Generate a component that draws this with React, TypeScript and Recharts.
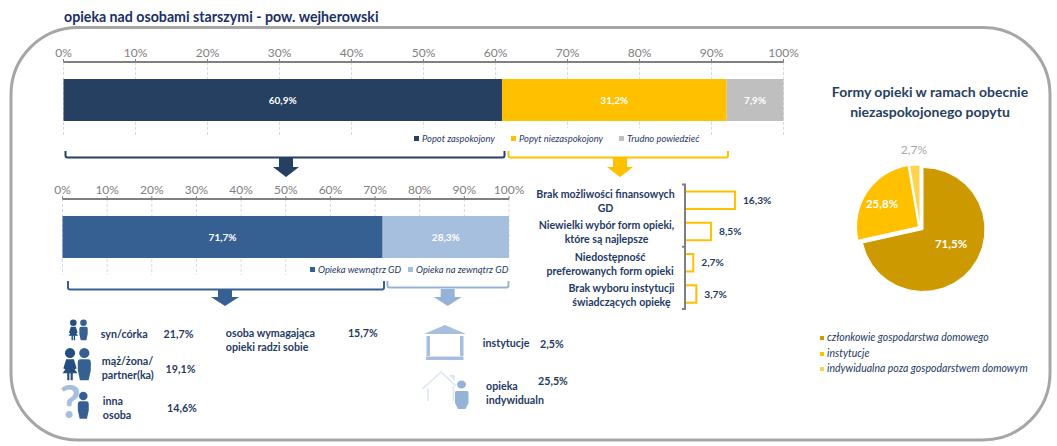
import { BarChart, Bar, XAxis, YAxis, CartesianGrid, LabelList, Legend, PieChart, Pie, Cell } from "recharts";

const FONT = "Lato, 'Open Sans', sans-serif";
const NAVY = "#1F3A64";
const GRAY_TEXT = "#808080";

// top bar
const demandSeries = ["Popot zaspokojony", "Popyt niezaspokojony", "Trudno powiedzieć"];
const demandValues = [60.9, 31.2, 7.9];
const demandColors = ["#264061", "#FFC000", "#BFBFBF"];
const demandLegendX = [0, 97, 205];

// second bar
const careSeries = ["Opieka wewnątrz GD", "Opieka na zewnątrz GD"];
const careValues = [71.7, 28.3];
const careColors = ["#376092", "#A7BFDE"];
const careLegendX = [0, 98];

const axisTicks = [0, 10, 20, 30, 40, 50, 60, 70, 80, 90, 100];

// reasons
const reasonLabels = [
  ["Brak możliwości finansowych", "GD"],
  ["Niewielki wybór form opieki,", "które są najlepsze"],
  ["Niedostępność", "preferowanych form opieki"],
  ["Brak wyboru instytucji", "świadczących opiekę"],
];
const reasonValues = [16.3, 8.5, 2.7, 3.7];
const reasonLabelCentres = [605.5, 606.5, 610, 621.5];

// pie
const formNames = ["członkowie gospodarstwa domowego", "instytucje", "indywidualna poza gospodarstwem domowym"];
const formValues = [71.5, 25.8, 2.7];
const formColors = ["#CC9900", "#FFC000", "#FFD34F"];
const formOffsets = [[0, 0], [-4.5, -2.8], [-3, -2.5]];
const formLabelPos = [[951, 243], [882, 203], [914, 149]];
const formLabelColors = ["#fff", "#fff", "#A6A6A6"];

const pct = (v: number) => v.toFixed(1).replace(".", ",") + "%";

const toRow = (names: string[], values: number[]) => {
  const row: Record<string, number | string> = { name: "" };
  names.forEach((n, i) => (row[n] = values[i]));
  return [row];
};

function LegendRow({ items, colors, xs, width }: { items: string[]; colors: string[]; xs: number[]; width: number }) {
  return (
    <div style={{ position: "relative", width, height: 20, background: "#fff" }}>
      {items.map((t, i) => (
        <div key={t} style={{ position: "absolute", left: xs[i] + 4, top: 4, whiteSpace: "nowrap", font: `italic 9.4px ${FONT}`, color: NAVY, lineHeight: "14px" }}>
          <span style={{ display: "inline-block", width: 5, height: 5, marginRight: 3, marginBottom: 1, background: colors[i] }} />
          {t}
        </div>
      ))}
    </div>
  );
}

function StackedBar({ names, values, colors, left, right, top, plotHeight, barSize, legend }: any) {
  const height = top + plotHeight + 30;
  return (
    <div style={{ position: "absolute", left: 0, top: 0 }}>
      <BarChart
        width={1057}
        height={height}
        layout="vertical"
        data={toRow(names, values)}
        margin={{ left, right: 1057 - right, top: top - 30, bottom: 30 }}
      >
        <CartesianGrid horizontal={false} stroke="#D3DBE6" strokeDasharray="3 2" />
        <XAxis
          type="number"
          orientation="top"
          height={30}
          domain={[0, 100]}
          ticks={axisTicks}
          interval={0}
          tickFormatter={(v) => v + "%"}
          tick={{ fill: GRAY_TEXT, fontSize: 12, fontFamily: FONT }}
          tickSize={3}
          tickMargin={2}
          tickLine={{ stroke: "#808080" }}
          axisLine={{ stroke: "#808080", strokeWidth: 2 }}
        />
        <YAxis type="category" dataKey="name" hide />
        {names.map((n: string, i: number) => (
          <Bar key={n} dataKey={n} stackId="a" fill={colors[i]} barSize={barSize} isAnimationActive={false}>
            <LabelList
              dataKey={n}
              position="center"
              formatter={(v: any) => pct(Number(v))}
              style={{ fill: "#fff", fontSize: 10, fontWeight: 700, fontFamily: FONT }}
            />
          </Bar>
        ))}
        <Legend
          verticalAlign="middle"
          wrapperStyle={legend.style}
          content={() => <LegendRow items={names} colors={colors} xs={legend.xs} width={legend.style.width} />}
        />
      </BarChart>
    </div>
  );
}

function ReasonTick({ y, index }: any) {
  const lines = reasonLabels[index] || [];
  const cx = reasonLabelCentres[index] - 530;
  return (
    <text textAnchor="middle" fill={NAVY} fontSize={10.6} fontWeight={700} fontFamily={FONT}>
      <tspan x={cx} y={y - 2}>{lines[0]}</tspan>
      <tspan x={cx} y={y + 12}>{lines[1]}</tspan>
    </text>
  );
}

const reasonData = reasonValues.map((value, i) => ({ name: reasonLabels[i].join(" "), value }));

function ReasonChart() {
  return (
    <div style={{ position: "absolute", left: 530, top: 180 }}>
      <BarChart width={250} height={134} layout="vertical" data={reasonData} margin={{ left: 0, right: 0, top: 4.5, bottom: 4.5 }} barSize={17.5}>
        <XAxis type="number" domain={[0, 31]} hide />
        <YAxis
          type="category"
          dataKey="name"
          width={155}
          interval={0}
          tick={<ReasonTick />}
          tickLine={false}
          axisLine={false}
        />
        <Bar dataKey="value" fill="#fff" stroke="#FFC000" strokeWidth={2} isAnimationActive={false}>
          <LabelList
            dataKey="value"
            position="right"
            offset={8}
            formatter={(v: any) => pct(Number(v))}
            style={{ fill: NAVY, fontSize: 10.2, fontWeight: 700, fontFamily: FONT }}
          />
        </Bar>
      </BarChart>
    </div>
  );
}

const pieRows = formNames.map((name, i) => ({ name, value: formValues[i] }));

function FormsPie() {
  const L = 800;
  const T = 135;
  return (
    <div style={{ position: "absolute", left: L, top: T }}>
      <PieChart width={250} height={250}>
        {formNames.map((_, own) => (
          <Pie
            key={own}
            data={pieRows}
            dataKey="value"
            cx={918 - L + formOffsets[own][0]}
            cy={224.5 - T + formOffsets[own][1]}
            outerRadius={62}
            startAngle={90}
            endAngle={-270}
            isAnimationActive={false}
            labelLine={false}
            label={(p: any) =>
              p.index === own ? (
                <text
                  x={formLabelPos[own][0] - L}
                  y={formLabelPos[own][1] - T}
                  textAnchor="middle"
                  dominantBaseline="central"
                  fill={formLabelColors[own]}
                  fontSize={own === 2 ? 12 : 11.5}
                  fontWeight={own === 2 ? 400 : 700}
                  fontFamily={FONT}
                >
                  {pct(formValues[own])}
                </text>
              ) : null
            }
          >
            {formNames.map((n, i) => (
              <Cell key={n} fill={i === own ? formColors[i] : "none"} stroke={i === own ? "#fff" : "none"} strokeWidth={1} />
            ))}
          </Pie>
        ))}
        <Legend
          verticalAlign="middle"
          wrapperStyle={{ position: "absolute", left: 820 - L, top: 195, width: 240 }}
          content={() => (
            <div>
              {formNames.map((n, i) => (
                <div key={n} style={{ height: 15.6, whiteSpace: "nowrap", font: `italic 10.5px/15.6px ${FONT}`, color: NAVY }}>
                  <span style={{ display: "inline-block", width: 4, height: 4, marginRight: 3, marginBottom: 1, background: formColors[i] }} />
                  {n}
                </div>
              ))}
            </div>
          )}
        />
      </PieChart>
    </div>
  );
}

const bracket = (x1: number, x2: number, y1: number, y2: number) =>
  `M${x1} ${y1} V${y2 - 2} Q${x1} ${y2} ${x1 + 2} ${y2} H${x2 - 2} Q${x2} ${y2} ${x2} ${y2 - 2} V${y1}`;

const arrow = (tip: number, shaft: number, head: number, y1: number, y2: number, y3: number) =>
  `M${tip - shaft} ${y1} H${tip + shaft} V${y2} H${tip + head} L${tip} ${y3} L${tip - head} ${y2} H${tip - shaft} Z`;

function Woman({ x, y, s, c }: any) {
  return (
    <g transform={`translate(${x} ${y}) scale(${s})`} fill={c}>
      <circle cx={0} cy={0} r={3.3} />
      <path d="M-2.5 4 H2.5 L4.3 10 L3 10.5 L4.8 13 H1.8 V17.5 H0.4 V13 H-0.4 V17.5 H-1.8 V13 H-4.8 L-3 10.5 L-4.3 10 Z" />
    </g>
  );
}

function Man({ x, y, s, c }: any) {
  return (
    <g transform={`translate(${x} ${y}) scale(${s})`} fill={c}>
      <circle cx={0} cy={0} r={3.3} />
      <path d="M-2.5 4 H2.5 Q4.2 4 4.2 6 V11 L2.8 17.5 H-2.8 L-4.2 11 V6 Q-4.2 4 -2.5 4 Z" />
    </g>
  );
}

function Decorations() {
  return (
    <svg width={1057} height={446} style={{ position: "absolute", left: 0, top: 0 }}>
      <rect x={11} y={27.5} width={1039} height={412.5} rx={67} fill="#fff" stroke="#A6A6A6" strokeWidth={3} />
      <g fill="none" strokeWidth={2}>
        <path d={bracket(65.5, 504.5, 151, 157.5)} stroke="#264061" />
        <path d={bracket(508.5, 728, 151, 157.5)} stroke="#FFC000" />
        <path d={bracket(68, 384, 281, 289.5)} stroke="#376092" />
        <path d={bracket(387.5, 508.5, 281, 287.5)} stroke="#95B3D7" />
      </g>
      <path d={arrow(286, 7, 13, 158, 167, 177)} fill="#264061" />
      <path d={arrow(620, 7, 13, 158, 167, 177)} fill="#FFC000" />
      <path d={arrow(225, 7, 14, 290, 297, 306)} fill="#376092" />
      <path d={arrow(447.7, 7, 14, 289, 297, 306)} fill="#95B3D7" />
      <Woman x={73.3} y={322.7} s={1} c="#264F80" />
      <Man x={83.5} y={322.7} s={1} c="#376092" />
      <Woman x={70} y={353} s={1.55} c="#264F80" />
      <Man x={84.3} y={353} s={1.55} c="#376092" />
      <text x={70} y={418} fontSize={46} fontWeight={700} fontFamily={FONT} fill="#A7BFDE" textAnchor="middle">?</text>
      <Man x={83.3} y={396} s={1.3} c="#376092" />
      <g fill="#A7BFDE">
        <path d="M424 334 L445 325 L466 334 Z" />
        <rect x={426.5} y={336} width={3.5} height={20} />
        <rect x={460} y={336} width={3.5} height={20} />
        <rect x={426} y={356.5} width={37.5} height={3.5} />
      </g>
      <g fill="none" stroke="#DCE6F2" strokeWidth={1.5}>
        <path d="M422.5 389 L441 372 L456 386" />
        <path d="M428 388 V401 M453.5 386 V401" />
      </g>
      <path d="M449 375 H455 V381 Z" fill="#DCE6F2" />
      <ellipse cx={461.5} cy={384.5} rx={4.5} ry={4} fill="#95B3D7" />
      <path d="M456 391 H467 Q468.5 391 468.5 393 V403 L465.5 409 H458 L455 403 V393 Q455 391 456 391 Z" fill="#95B3D7" />
    </svg>
  );
}

const noteTexts: [string, number, number][] = [
  ["syn/córka", 100.7, 333.7],
  ["21,7%", 163.6, 333.7],
  ["mąż/żona/", 101.8, 360],
  ["partner(ka)", 101.8, 374],
  ["19,1%", 165.6, 368],
  ["inna", 102.8, 400.7],
  ["osoba", 102.8, 414.7],
  ["14,6%", 167, 407.7],
  ["osoba wymagająca", 225.8, 332.7],
  ["opieki radzi sobie", 225.8, 346.7],
  ["15,7%", 347.9, 332.7],
  ["instytucje", 482.8, 342.3],
  ["2,5%", 540, 343],
  ["opieka", 486, 385],
  ["indywidualn", 486, 399],
  ["25,5%", 538, 380.3],
];

function Notes() {
  return (
    <svg width={1057} height={446} style={{ position: "absolute", left: 0, top: 0, pointerEvents: "none" }}>
      <text x={64} y={22} fontSize={14.2} fontWeight={700} fontFamily={FONT} fill="#1A2F66">opieka nad osobami starszymi - pow. wejherowski</text>
      <text x={930} y={96.5} textAnchor="middle" fontSize={14} fontWeight={700} fontFamily={FONT} fill="#264061">Formy opieki w ramach obecnie</text>
      <text x={930} y={117} textAnchor="middle" fontSize={14} fontWeight={700} fontFamily={FONT} fill="#264061">niezaspokojonego popytu</text>
      {noteTexts.map(([t, x, y]) => (
        <text key={t} x={x} y={y} dominantBaseline="central" fontSize={10.7} fontWeight={700} fontFamily={FONT} fill={NAVY}>{t}</text>
      ))}
      <path d="M682 184.5 H685 V309 H682 M682 246.7 H685" fill="none" stroke="#7F7F7F" strokeWidth={2} />
    </svg>
  );
}

export default function App() {
  return (
    <div style={{ position: "absolute", left: 0, top: 0, width: 1057, height: 446, background: "#fff", overflow: "hidden" }}>
      <Decorations />
      <StackedBar
        names={demandSeries}
        values={demandValues}
        colors={demandColors}
        left={63.5}
        right={783.5}
        top={62}
        plotHeight={75}
        barSize={42}
        legend={{ xs: demandLegendX, style: { position: "absolute", left: 410, top: 128, width: 295, height: 20 } }}
      />
      <StackedBar
        names={careSeries}
        values={careValues}
        colors={careColors}
        left={62.5}
        right={509}
        top={199}
        plotHeight={76}
        barSize={42}
        legend={{ xs: careLegendX, style: { position: "absolute", left: 306, top: 259, width: 203, height: 20 } }}
      />
      <ReasonChart />
      <FormsPie />
      <Notes />
    </div>
  );
}
